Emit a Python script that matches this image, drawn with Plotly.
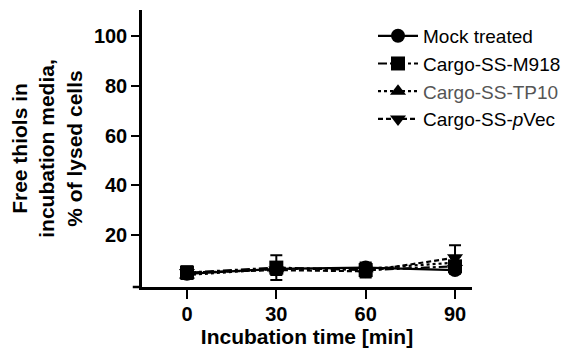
import plotly.graph_objects as go

time_min = [0, 30, 60, 90]
series_names = ["Mock treated", "Cargo-SS-M918",
                "<span style='color:#555555'>Cargo-SS-TP10</span>",
                "Cargo-SS-<i>p</i>Vec"]
mock = [4.5, 6.5, 7.0, 6.0]
mock_err = [1.0, 1.5, 1.5, 1.5]
m918 = [5.0, 7.0, 6.0, 7.5]
m918_err = [2.5, 5.0, 3.0, 2.0]
tp10 = [4.0, 6.5, 6.5, 9.0]
tp10_err = [1.5, 2.0, 2.0, 2.5]
pvec = [5.0, 6.0, 5.5, 11.0]
pvec_err = [1.5, 2.0, 2.0, 5.0]

y_ticks = [20, 40, 60, 80, 100]
x_ticks = [0, 30, 60, 90]

styles = [
    ("circle", "solid"),
    ("square", "dashdot"),
    ("triangle-up", "dot"),
    ("triangle-down", "5px,3px"),
]
values = [mock, m918, tp10, pvec]
errors = [mock_err, m918_err, tp10_err, pvec_err]

FONT = "Liberation Sans, Arial, sans-serif"

fig = go.Figure()
for name, (sym, dash), v, e in zip(series_names, styles, values, errors):
    fig.add_trace(go.Scatter(
        x=time_min, y=v, name=name, mode="lines+markers",
        line=dict(color="black", width=2.2, dash=dash),
        marker=dict(symbol=sym, size=14, color="black"),
        error_y=dict(type="data", array=e, visible=True, color="black",
                     thickness=2, width=6),
    ))

fig.update_layout(
    width=564, height=344,
    margin=dict(l=134, r=100, t=2, b=65),
    paper_bgcolor="white", plot_bgcolor="white",
    font=dict(family=FONT, color="black"),
    showlegend=True,
    legend=dict(x=0.70, y=0.975, xanchor="left", yanchor="top",
                font=dict(size=19, color="black"),
                bgcolor="rgba(0,0,0,0)", tracegroupgap=0,
                itemwidth=40),
    xaxis=dict(range=[-15.1, 95.7], tickvals=x_ticks,
               ticktext=[str(t) for t in x_ticks],
               showgrid=False, zeroline=False, showline=True,
               linecolor="black", linewidth=2.5,
               ticks="outside", ticklen=9, tickwidth=2, tickcolor="black",
               ticklabelstandoff=-2,
               tickfont=dict(size=20, family=FONT, weight="bold"),
               title=dict(text="<b>Incubation time [min]</b>", font=dict(size=21),
                          standoff=4)),
    yaxis=dict(range=[-0.8, 110.5], tickvals=y_ticks,
               ticktext=[str(t) for t in y_ticks],
               showgrid=False, zeroline=False, showline=True,
               linecolor="black", linewidth=2.5,
               ticks="outside", ticklen=8, tickwidth=2, tickcolor="black",
               tickfont=dict(size=20, family=FONT, weight="bold"),
               title=dict(text="<b>Free thiols in<br>incubation media,<br>% of lysed cells</b>",
                          font=dict(size=21), standoff=8)),
)
fig.add_shape(type="line", xref="paper", yref="paper", x0=-0.028, x1=0, y0=0, y1=0,
              line=dict(color="black", width=2.5))

fig.write_html("out.html")
